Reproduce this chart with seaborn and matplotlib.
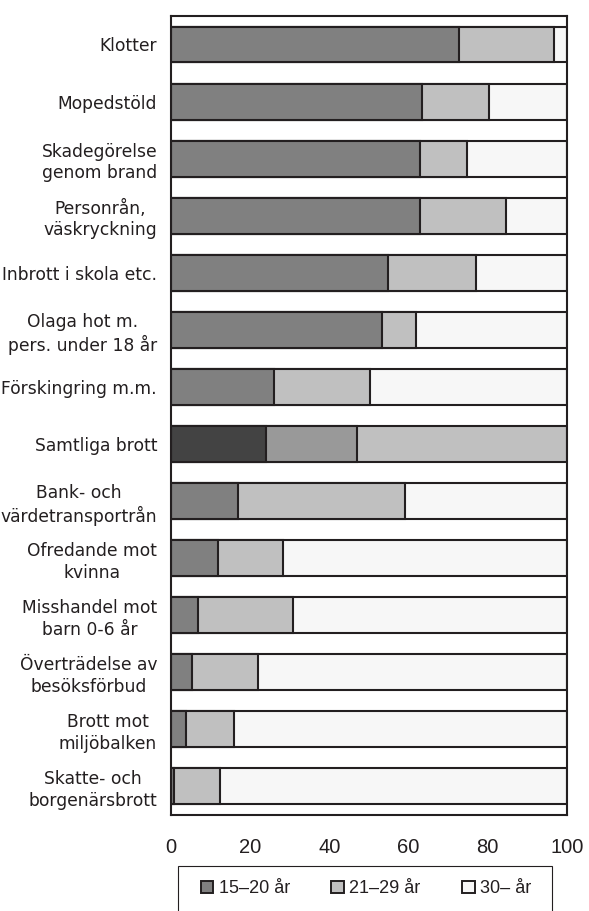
import matplotlib
matplotlib.use("Agg")
import matplotlib.pyplot as plt
from matplotlib.patches import Patch, Rectangle
import numpy as np
import pandas as pd
import seaborn as sns

# Offence categories, top to bottom
categories = [
    "Klotter",
    "Mopedstöld",
    "Skadegörelse\ngenom brand",
    "Personrån,\nväskryckning",
    "Inbrott i skola etc.",
    "Olaga hot m.\npers. under 18 år",
    "Förskingring m.m.",
    "Samtliga brott",
    "Bank- och\nvärdetransportrån",
    "Ofredande mot\nkvinna",
    "Misshandel mot\nbarn 0-6 år",
    "Överträdelse av\nbesöksförbud",
    "Brott mot\nmiljöbalken",
    "Skatte- och\nborgenärsbrott",
]

# Share of suspects per age group (percent)
age_15_20 = [72.7, 63.5, 62.9, 62.9, 54.9, 53.2, 26.0, 24.0, 16.9, 11.8, 6.7, 5.4, 3.9, 0.7]
age_21_29 = [24.0, 16.7, 11.9, 21.7, 22.1, 8.7, 24.3, 23.0, 42.3, 16.5, 24.2, 16.6, 12.0, 11.6]
age_30_plus = [3.3, 19.8, 25.2, 15.4, 23.0, 38.1, 49.7, 53.0, 40.8, 71.7, 69.1, 78.0, 84.1, 87.7]

group_labels = ["15\u201320 år", "21\u201329 år", "30\u2013 år"]
highlight = "Samtliga brott"

ink = "#231f20"
group_colors = ["#808080", "#c0c0c0", "#f7f7f7"]
highlight_colors = ["#434343", "#999999", "#c0c0c0"]

sns.set_style("white")
plt.rcParams["font.family"] = ["Liberation Sans", "DejaVu Sans"]
plt.rcParams["text.color"] = ink

df = pd.DataFrame({
    "brott": categories,
    "g1": age_15_20,
    "g2": age_21_29,
    "g3": age_30_plus,
})
ends = np.cumsum(df[["g1", "g2", "g3"]].to_numpy(), axis=1)
df["end1"], df["end2"], df["end3"] = ends[:, 0], ends[:, 1], ends[:, 2]

fig = plt.figure(figsize=(5.89, 9.11), dpi=100)
ax = fig.add_axes([0.2903, 0.1054, 0.6723, 0.8771])

# Stacked bars: draw the cumulative ends from the outermost segment inwards
for idx in (2, 1, 0):
    col = f"end{idx + 1}"
    pal = {c: (highlight_colors[idx] if c == highlight else group_colors[idx])
           for c in categories}
    sns.barplot(data=df, x=col, y="brott", hue="brott", palette=pal,
                order=categories, hue_order=categories, orient="h",
                width=0.63, saturation=1, errorbar=None,
                edgecolor=ink, linewidth=1.5, legend=False, ax=ax)

ax.set_xlim(0, 100)
ax.set_ylim(len(categories) - 0.5, -0.5)
ax.set_xticks([0, 20, 40, 60, 80, 100])
ax.set_xlabel("")
ax.set_ylabel("")

for side in ["left", "right", "top", "bottom"]:
    ax.spines[side].set_visible(True)
    ax.spines[side].set_color(ink)
    ax.spines[side].set_linewidth(1.5)

ax.tick_params(axis="x", direction="out", length=4.5, width=0.9, pad=12,
               labelsize=14.5, color=ink, labelcolor=ink)
ax.tick_params(axis="y", length=0, pad=10, labelcolor=ink)
for lab in ax.get_yticklabels():
    lab.set_fontfamily("DejaVu Sans")
    lab.set_fontsize(12.3)
    lab.set_multialignment("center")
    lab.set_linespacing(1.25)

handles = [Patch(facecolor=c, edgecolor=ink, linewidth=1.4) for c in group_colors]
fig.legend(handles, group_labels, loc="center", bbox_to_anchor=(0.6214, 0.0242),
           ncol=3, frameon=False, fontsize=13, handlelength=0.7, handleheight=0.7,
           handletextpad=0.3, columnspacing=2.3, borderpad=0)
fig.add_artist(Rectangle((0.3022, -0.01), 0.635, 0.0594, transform=fig.transFigure,
                         fill=False, edgecolor=ink, linewidth=0.8, clip_on=False))

fig.savefig("out.png", dpi=100)
